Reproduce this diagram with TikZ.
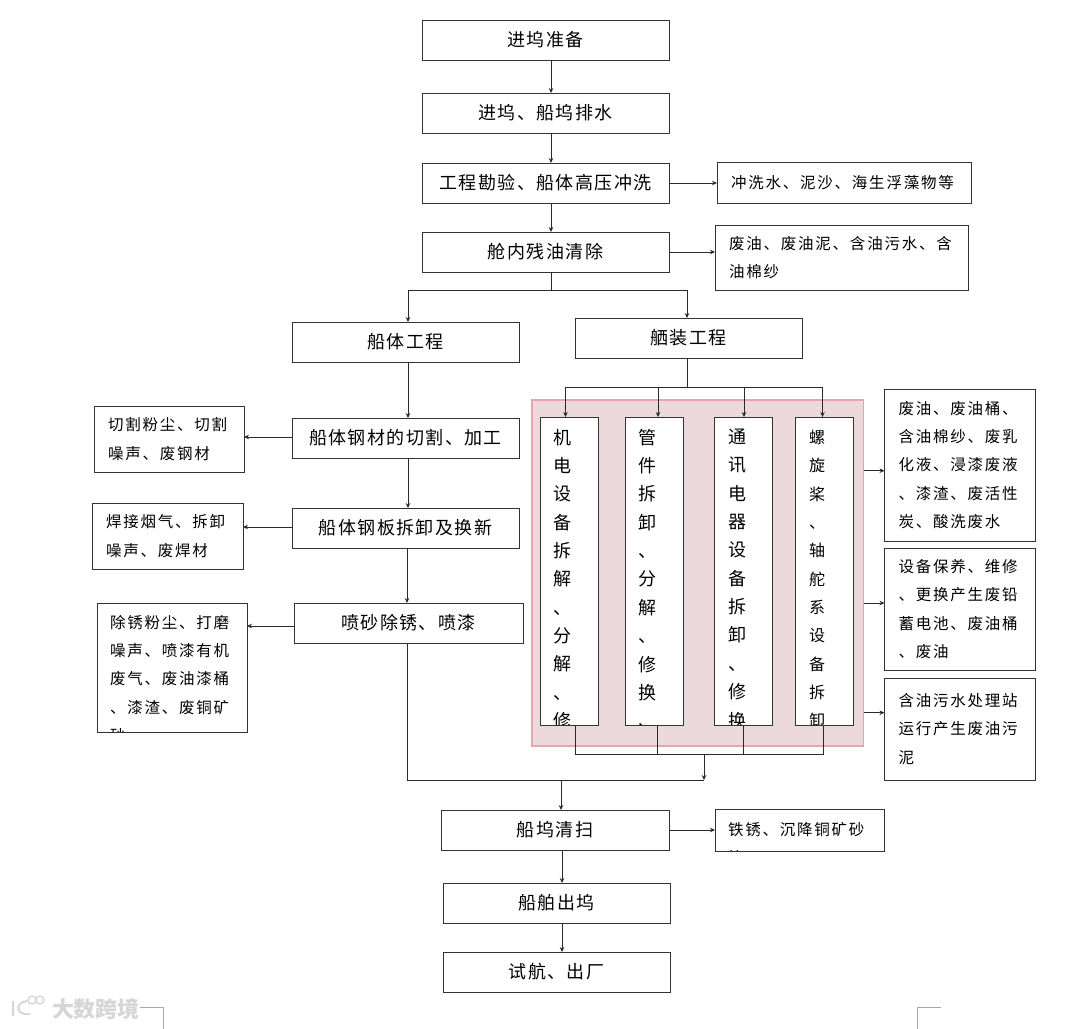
\documentclass[tikz,border=0pt]{standalone}
\usepackage{fontspec}
\usepackage{xcolor}
\usepackage{tikz}
\usetikzlibrary{arrows.meta,positioning,fit,backgrounds}
\setmainfont{Noto Sans CJK SC}
\newfontfamily\stepfont[LetterSpace=8]{Noto Sans CJK SC}
\newfontfamily\sidefont[LetterSpace=11.5]{Noto Sans CJK SC}
\definecolor{frame}{HTML}{333333}
\definecolor{wire}{HTML}{2A2A2A}
\definecolor{panelfill}{HTML}{EBD9DB}
\definecolor{panelrule}{HTML}{E8A3AB}
\definecolor{markgrey}{HTML}{A8A8A8}
\definecolor{stampgrey}{HTML}{D6D6D6}

\begin{document}
\begin{tikzpicture}[
  x=1pt,y=-1pt,
  stepbox/.style={draw=frame,line width=0.85pt,fill=white,outer sep=0pt,inner sep=0pt,minimum width=#1,minimum height=40pt,font=\fontsize{18}{24}\stepfont},
  stepbox/.default=247pt,
  sidebox/.style n args={3}{draw=frame,line width=0.85pt,fill=white,outer sep=0pt,inner sep=0pt,minimum width=#1,minimum height=#2,text width=#3,align=left,font=\fontsize{15.5}{28.3}\sidefont},
  cutbox/.style 2 args={draw=frame,line width=0.85pt,fill=white,outer sep=0pt,inner sep=0pt,minimum width=#1,minimum height=#2},
  cuttext/.style={anchor=north west,inner sep=0pt,minimum width=0pt,minimum height=0pt,align=left,font=\fontsize{15.5}{28.3}\sidefont},
  coltext/.style={anchor=north west,inner sep=0pt,minimum width=0pt,minimum height=0pt,align=left,font=\fontsize{18}{28.35}\selectfont},
  flow/.style={-{Stealth[length=5pt,width=4.5pt]},draw=wire,line width=0.75pt},
  bus/.style={draw=wire,line width=0.75pt},
  cropmark/.style={draw=markgrey,line width=0.8pt},
]
\useasboundingbox (0,0) rectangle (1080,1029);

% --- main chain, top
\node[stepbox] (dock) at (545.5,40) {进坞准备};
\node[stepbox,below=33pt of dock] (drain) {进坞、船坞排水};
\node[stepbox,below=30pt of drain] (survey) {工程勘验、船体高压冲洗};
\node[stepbox,below=29pt of survey] (oilout) {舱内残油清除};
\node[sidebox={254pt}{41pt}{226pt},right=48pt of survey] (washout) {冲洗水、泥沙、海生浮藻物等};
\node[sidebox={253pt}{65pt}{225pt},right=46pt of oilout,yshift=-5.5pt] (oilwaste) {废油、废油泥、含油污水、含\\油棉纱};

% --- hull branch
\node[stepbox=227pt,below=50pt of oilout,xshift=-140pt] (hull) {船体工程};
\node[stepbox=227pt,below=56pt of hull] (cutting) {船体钢材的切割、加工};
\node[stepbox=227pt,below=50pt of cutting] (plates) {船体钢板拆卸及换新};
\node[stepbox=229pt,below=55pt of plates,xshift=3pt] (blast) {喷砂除锈、喷漆};
\node[sidebox={150pt}{66pt}{122pt},left=48pt of cutting,yshift=-1pt] (cutwaste) {切割粉尘、切割\\噪声、废钢材};
\node[sidebox={151pt}{66pt}{123pt},left=49pt of plates,yshift=-8pt] (weldwaste) {焊接烟气、拆卸\\噪声、废焊材};
\node[cutbox={150pt}{129pt},left=47pt of blast,yshift=-44.5pt,
  path picture={\node[cuttext] (blasttext) at ([shift={(13pt,-12pt)}]path picture bounding box.north west)
    {除锈粉尘、打磨\\噪声、喷漆有机\\废气、废油漆桶\\、漆渣、废铜矿\\砂};}] (blastwaste) {};

% --- outfitting branch
\node[stepbox=227pt,below=46pt of oilout,xshift=143pt] (outfit) {舾装工程};
\node[cutbox={58pt}{308pt},below=59pt of outfit,xshift=-119.5pt,
  path picture={\node[coltext] (coltext1) at ([shift={(13pt,-12pt)}]path picture bounding box.north west)
    {机\\电\\设\\备\\拆\\解\\、\\分\\解\\、\\修};}] (col1) {};
\node[cutbox={58pt}{308pt},right=27pt of col1,
  path picture={\node[coltext] (coltext2) at ([shift={(13.5pt,-12pt)}]path picture bounding box.north west)
    {管\\件\\拆\\卸\\、\\分\\解\\、\\修\\换\\、};}] (col2) {};
\node[cutbox={58pt}{308pt},right=31.5pt of col2,
  path picture={\node[coltext] (coltext3) at ([shift={(14pt,-12pt)}]path picture bounding box.north west)
    {通\\讯\\电\\器\\设\\备\\拆\\卸\\、\\修\\换};}] (col3) {};
\node[cutbox={58pt}{308pt},right=23pt of col3,
  path picture={\node[coltext,font=\fontsize{16}{28.35}\selectfont] (coltext4) at ([shift={(13.5pt,-13pt)}]path picture bounding box.north west)
    {螺\\旋\\桨\\、\\轴\\舵\\系\\设\\备\\拆\\卸};}] (col4) {};
\begin{scope}[on background layer]
\node[draw=panelrule,line width=1.6pt,fill=panelfill,inner sep=0pt,outer sep=0pt,
  fit={([xshift=-8pt,yshift=17pt]col1.north west) ([xshift=10pt,yshift=-21pt]col4.south east)}] (panel) {};
\end{scope}
\node[sidebox={151pt}{152pt}{123pt},right=21pt of panel,yshift=108pt] (oilbins) {废油、废油桶、\\含油棉纱、废乳\\化液、浸漆废液\\、漆渣、废活性\\炭、酸洗废水};
\node[sidebox={151pt}{122pt}{123pt},below=7pt of oilbins] (battery) {设备保养、维修\\、更换产生废铅\\蓄电池、废油桶\\、废油};
\node[sidebox={151pt}{102pt}{123pt},below=8pt of battery] (sludge) {含油污水处理站\\运行产生废油污\\泥};

% --- main chain, bottom
\node[stepbox=228pt,below=167pt of blast,xshift=146.5pt] (sweep) {船坞清扫};
\node[stepbox=227pt,below=33pt of sweep,xshift=1.5pt] (undock) {船舶出坞};
\node[stepbox=227pt,below=29pt of undock] (trial) {试航、出厂};
\node[cutbox={169pt}{42pt},right=46pt of sweep,
  path picture={\node[cuttext] (sweeptext) at ([shift={(13pt,-13pt)}]path picture bounding box.north west)
    {铁锈、沉降铜矿砂\\等};}] (sweepwaste) {};

% --- junctions
\coordinate (split) at ([yshift=-18pt,xshift=5.5pt]oilout.south);
\coordinate (fan) at ([yshift=-29.5pt,xshift=-1.5pt]outfit.south);
\coordinate (gather) at (704,754);
\coordinate (merge) at (704,780);

% --- connectors
\draw[flow] ([xshift=5.5pt]dock.south) -- ([xshift=5.5pt]drain.north);
\draw[flow] ([xshift=5.5pt]drain.south) -- ([xshift=5.5pt]survey.north);
\draw[flow] ([xshift=5.5pt]survey.south) -- ([xshift=5.5pt]oilout.north);
\draw[flow] (survey.east) -- (survey.east -| washout.west);
\draw[flow] (oilout.east) -- (oilout.east -| oilwaste.west);
\draw[bus] ([xshift=5.5pt]oilout.south) -- (split);
\draw[flow] (split) -| ([xshift=2.5pt]hull.north);
\draw[flow] (split) -| ([xshift=-1.5pt]outfit.north);

\draw[flow] ([xshift=2.5pt]hull.south) -- ([xshift=2.5pt]cutting.north);
\draw[flow] ([xshift=2.5pt]cutting.south) -- ([xshift=2.5pt]plates.north);
\draw[flow] ([xshift=1.5pt]plates.south) -- ([xshift=-1.5pt]blast.north);
\draw[flow] ([yshift=1pt]cutting.west) -- ([yshift=1pt]cutting.west -| cutwaste.east);
\draw[flow] ([yshift=1pt]plates.west) -- ([yshift=1pt]plates.west -| weldwaste.east);
\draw[flow] ([yshift=-3pt]blast.west) -- ([yshift=-3pt]blast.west -| blastwaste.east);

\draw[bus] ([xshift=-1.5pt]outfit.south) -- (fan);
\draw[flow] (fan) -| ([xshift=-3.5pt]col1.north);
\draw[flow] (fan) -| ([xshift=4pt]col2.north);
\draw[flow] (fan) -| ([xshift=0.5pt]col3.north);
\draw[flow] (fan) -| ([xshift=-2pt]col4.north);

\draw[flow] ([yshift=-5.7pt]oilbins.west -| panel.east) -- ([yshift=-5.7pt]oilbins.west);
\draw[flow] ([yshift=6pt]battery.west -| panel.east) -- ([yshift=6pt]battery.west);
\draw[flow] ([yshift=16.3pt]sludge.west -| panel.east) -- ([yshift=16.3pt]sludge.west);

\draw[bus] ([xshift=6pt]col1.south) |- (gather);
\draw[bus] ([xshift=3.3pt]col2.south) |- (gather);
\draw[bus] ([xshift=-0.2pt]col3.south) |- (gather);
\draw[bus] ([xshift=-1pt]col4.south) |- (gather);
\draw[flow] (gather) -- (merge);
\draw[bus] ([xshift=-1.5pt]blast.south) |- (merge);

\draw[flow] ([xshift=6pt]sweep.north |- merge) -- ([xshift=6pt]sweep.north);
\draw[flow] ([xshift=7pt]sweep.south) -- ([xshift=5.5pt]undock.north);
\draw[flow] ([xshift=5.5pt]undock.south) -- ([xshift=5.5pt]trial.north);
\draw[flow] (sweep.east) -- (sweep.east -| sweepwaste.west);

% --- page marks and stamp
\draw[cropmark] (140,1007) -- (163,1007) -- (163,1029);
\draw[cropmark] (941,1007) -- (917,1007) -- (917,1029);
\node[text=stampgrey,font=\fontsize{22}{22}\selectfont\bfseries] (stamp) at (96,1009) {大数跨境};
\draw[stampgrey,line width=2pt] (13,1001) -- (13,1016) (27,1001) .. controls (15,1002) and (15,1016) .. (30,1014);
\node[draw=stampgrey,line width=1.4pt,circle,minimum size=8pt,inner sep=0pt] (logoa) at (32,1000) {};
\node[draw=stampgrey,line width=1.4pt,circle,minimum size=8pt,inner sep=0pt] (logob) at (40,1000) {};
\end{tikzpicture}
\end{document}
